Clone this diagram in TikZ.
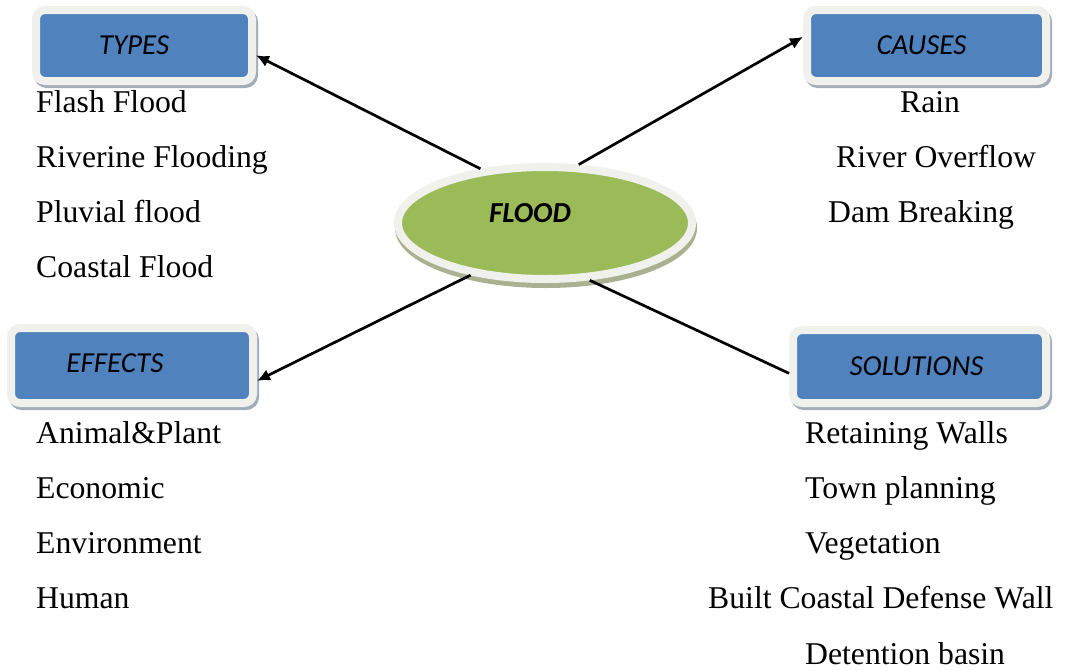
\documentclass[tikz,border=0pt]{standalone}
\usepackage{fontspec}
\setmainfont{Liberation Serif}
\newfontfamily\boxfont{Carlito}
\usetikzlibrary{arrows.meta,shapes.geometric}
\definecolor{boxblue}{HTML}{5082BE}
\definecolor{framec}{HTML}{F0F0EC}
\definecolor{shadowc}{HTML}{A3ACB9}
\definecolor{floodgreen}{HTML}{9BBB59}
\definecolor{gshadow}{HTML}{A9B190}
\begin{document}
\begin{tikzpicture}[x=1pt,y=-1pt,
  frame/.style={rectangle, rounded corners=9pt, draw=framec, line width=8pt,
    fill=boxblue, outer sep=4pt, inner sep=0pt,
    preaction={draw=shadowc, fill=shadowc, line width=8pt,
      transform canvas={shift={(2pt,-3pt)}}}},
  hub/.style={ellipse, draw=framec, line width=8pt, fill=floodgreen,
    outer sep=4pt, inner sep=0pt,
    preaction={draw=gshadow, fill=gshadow, line width=8pt,
      transform canvas={shift={(1pt,-5pt)}}}},
  boxlabel/.style={font=\boxfont\itshape\fontsize{29}{34}\selectfont, text=black, inner sep=0pt},
  hublabel/.style={font=\boxfont\bfseries\itshape\fontsize{29}{34}\selectfont, text=black, inner sep=0pt},
  item/.style={anchor=base west, inner sep=0pt, font=\fontsize{31.7}{38}\selectfont},
  conn/.style={line width=2.7pt, -{Latex[length=13pt,width=12pt]}},
  plain/.style={line width=2.7pt}]
\useasboundingbox[fill=white] (0,0) rectangle (1066,670);

% central ellipse
\node[hub, minimum width=294pt, minimum height=112pt,
  label={[hublabel, xshift=-15pt, yshift=10pt]center:FLOOD}] (flood) at (545,223) {};

% boxes
\node[frame, minimum width=216pt, minimum height=71pt,
  label={[boxlabel, xshift=-10pt]center:TYPES}] (types) at (144,45.5) {};
\node[frame, minimum width=239pt, minimum height=71pt,
  label={[boxlabel, xshift=-5pt]center:CAUSES}] (causes) at (926.5,45.5) {};
\node[frame, minimum width=242pt, minimum height=75pt,
  label={[boxlabel, xshift=-17pt, yshift=2pt]center:EFFECTS}] (effects) at (132,365.5) {};
\node[frame, minimum width=253pt, minimum height=73pt,
  label={[boxlabel, xshift=-3pt]center:SOLUTIONS}] (solutions) at (919.5,366.5) {};

% connectors
\draw[conn] (flood.140) -- (types.-5);
\draw[conn] (flood.60) -- (causes.176);
\draw[conn] (flood.215) -- (effects.-7);
\draw[plain] (flood.308) -- (solutions.183);

% types
\node[item] (t1) at (36,112) {Flash Flood};
\node[item] (t2) at (36,167) {Riverine Flooding};
\node[item] (t3) at (36,222) {Pluvial flood};
\node[item] (t4) at (36,277) {Coastal Flood};

% causes
\node[item] (c1) at (900,112) {Rain};
\node[item] (c2) at (836,167) {River Overflow};
\node[item] (c3) at (828,222) {Dam Breaking};

% effects
\node[item] (e1) at (36,443) {Animal\&Plant};
\node[item] (e2) at (36,498) {Economic};
\node[item] (e3) at (36,553) {Environment};
\node[item] (e4) at (36,608) {Human};

% solutions
\node[item] (s1) at (805,443) {Retaining Walls};
\node[item] (s2) at (805,498) {Town planning};
\node[item] (s3) at (805,553) {Vegetation};
\node[item] (s4) at (708,608) {Built Coastal Defense Wall};
\node[item] (s5) at (805,664) {Detention basin};
\end{tikzpicture}
\end{document}
